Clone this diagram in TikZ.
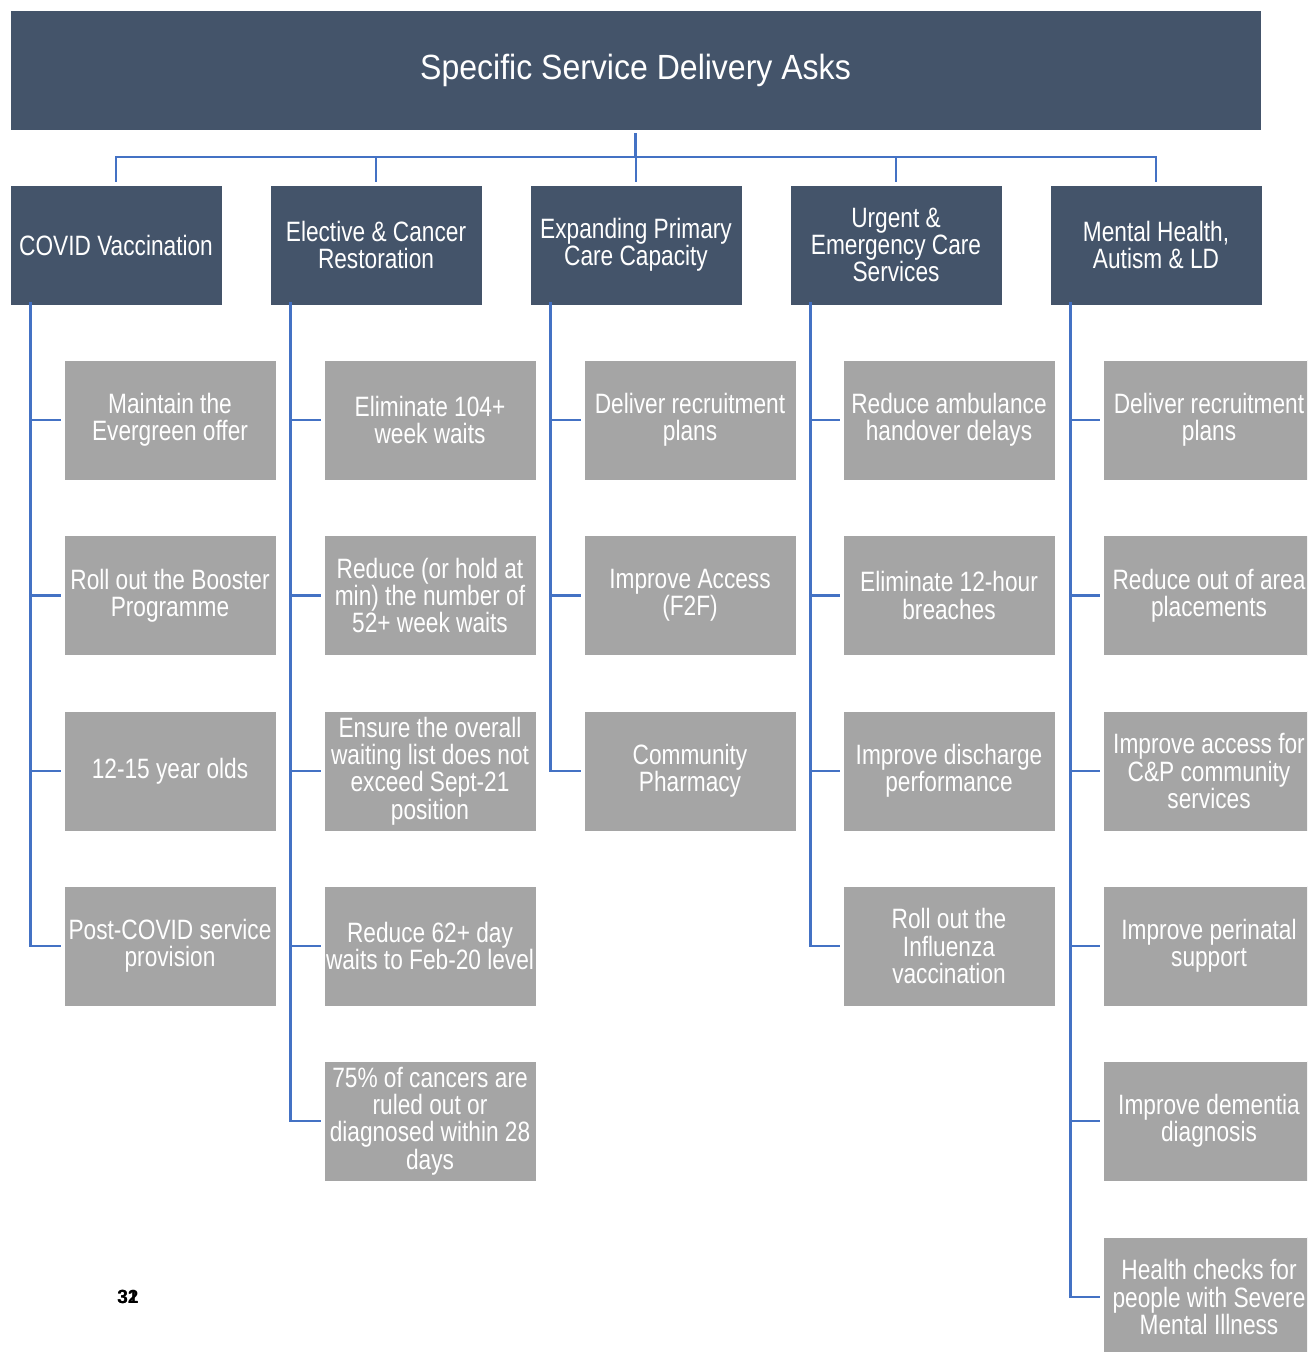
\documentclass[tikz,border=0pt]{standalone}
\usepackage{fontspec}
\setmainfont{Liberation Sans}[FakeStretch=0.81]
\newfontfamily\titlefont{Liberation Sans}[FakeStretch=0.915]
\newfontfamily\plainfont{Liberation Sans}
\definecolor{dkblue}{HTML}{44546A}
\definecolor{boxgray}{HTML}{A5A5A5}
\definecolor{linkblue}{HTML}{4472C4}
\begin{document}
\begin{tikzpicture}[x=1pt,y=-1pt,
  titlebox/.style={fill=dkblue,draw=white,line width=0.6pt,minimum width=1251pt,minimum height=120pt,inner sep=0pt,text=white,font=\titlefont\fontsize{35}{36}\selectfont},
  headbox/.style={fill=dkblue,draw=white,line width=0.6pt,minimum width=212pt,minimum height=120pt,inner sep=0pt,text=white,align=center,font=\fontsize{28}{27.3}\selectfont},
  itembox/.style={fill=boxgray,draw=white,line width=0.6pt,minimum width=212pt,minimum height=120pt,inner sep=0pt,text=white,align=center,font=\fontsize{28}{27.3}\selectfont},
  link/.style={draw=linkblue,line width=2.8pt}
]
\useasboundingbox (0,0) rectangle (1307,1352);
\clip (0,0) rectangle (1307,1352);
\fill[white] (0,0) rectangle (1307,1352);

% title
\node[titlebox] (top) at (635.5,70) {Specific Service Delivery Asks};

% level 1
\node[headbox] (h1) at (116,245) {COVID Vaccination};
\node[headbox] (h2) at (376,245) {Elective \& Cancer\\Restoration};
\node[headbox] (h3) at (636,245) {Expanding Primary\\Care Capacity};
\node[headbox] (h4) at (896,245) {Urgent \&\\Emergency Care\\Services};
\node[headbox] (h5) at (1156,245) {Mental Health,\\Autism \& LD};

% bus
\coordinate (bus) at (635.5,157);
\draw[link] ([yshift=-3pt]top.south) -- (bus);
\foreach \h in {h1,h2,h3,h4,h5}{
  \draw[link] (bus) -| ([yshift=3pt]\h.north);
}

% column 1
\node[itembox] (a1) at (170,420) {Maintain the\\Evergreen offer};
\node[itembox] (a2) at (170,595.5) {Roll out the Booster\\Programme};
\node[itembox] (a3) at (170,771) {12-15 year olds};
\node[itembox] (a4) at (170,946) {Post-COVID service\\provision};

% column 2
\node[itembox] (b1) at (430,420) {Eliminate 104+\\week waits};
\node[itembox] (b2) at (430,595.5) {Reduce (or hold at\\min) the number of\\52+ week waits};
\node[itembox] (b3) at (430,771) {Ensure the overall\\waiting list does not\\exceed Sept-21\\position};
\node[itembox] (b4) at (430,946) {Reduce 62+ day\\waits to Feb-20 level};
\node[itembox] (b5) at (430,1121) {75\% of cancers are\\ruled out or\\diagnosed within 28\\days};

% column 3
\node[itembox] (c1) at (690,420) {Deliver recruitment\\plans};
\node[itembox] (c2) at (690,595.5) {Improve Access\\(F2F)};
\node[itembox] (c3) at (690,771) {Community\\Pharmacy};

% column 4
\node[itembox] (d1) at (949,420) {Reduce ambulance\\handover delays};
\node[itembox] (d2) at (949,595.5) {Eliminate 12-hour\\breaches};
\node[itembox] (d3) at (949,771) {Improve discharge\\performance};
\node[itembox] (d4) at (949,946) {Roll out the\\Influenza\\vaccination};

% column 5
\node[itembox] (e1) at (1209,420) {Deliver recruitment\\plans};
\node[itembox] (e2) at (1209,595.5) {Reduce out of area\\placements};
\node[itembox] (e3) at (1209,771) {Improve access for\\C\&P community\\services};
\node[itembox] (e4) at (1209,946) {Improve perinatal\\support};
\node[itembox] (e5) at (1209,1121) {Improve dementia\\diagnosis};
\node[itembox] (e6) at (1209,1297) {Health checks for\\people with Severe\\Mental Illness};

% child connectors
\foreach \p/\list in {h1/{a1,a2,a3,a4},h2/{b1,b2,b3,b4,b5},h3/{c1,c2,c3},h4/{d1,d2,d3,d4},h5/{e1,e2,e3,e4,e5,e6}}{
  \foreach \c in \list{
    \draw[link,shorten >=3pt] ([xshift=21pt,yshift=3pt]\p.south west) |- (\c.west);
  }
}

% page number (overprinted)
\node[font=\plainfont\bfseries\fontsize{19}{19}\selectfont,text=black,inner sep=0pt] (pg1) at (128,1297) {31};
\node[font=\plainfont\bfseries\fontsize{19}{19}\selectfont,text=black,inner sep=0pt] (pg2) at (128,1297) {32};
\end{tikzpicture}
\end{document}
